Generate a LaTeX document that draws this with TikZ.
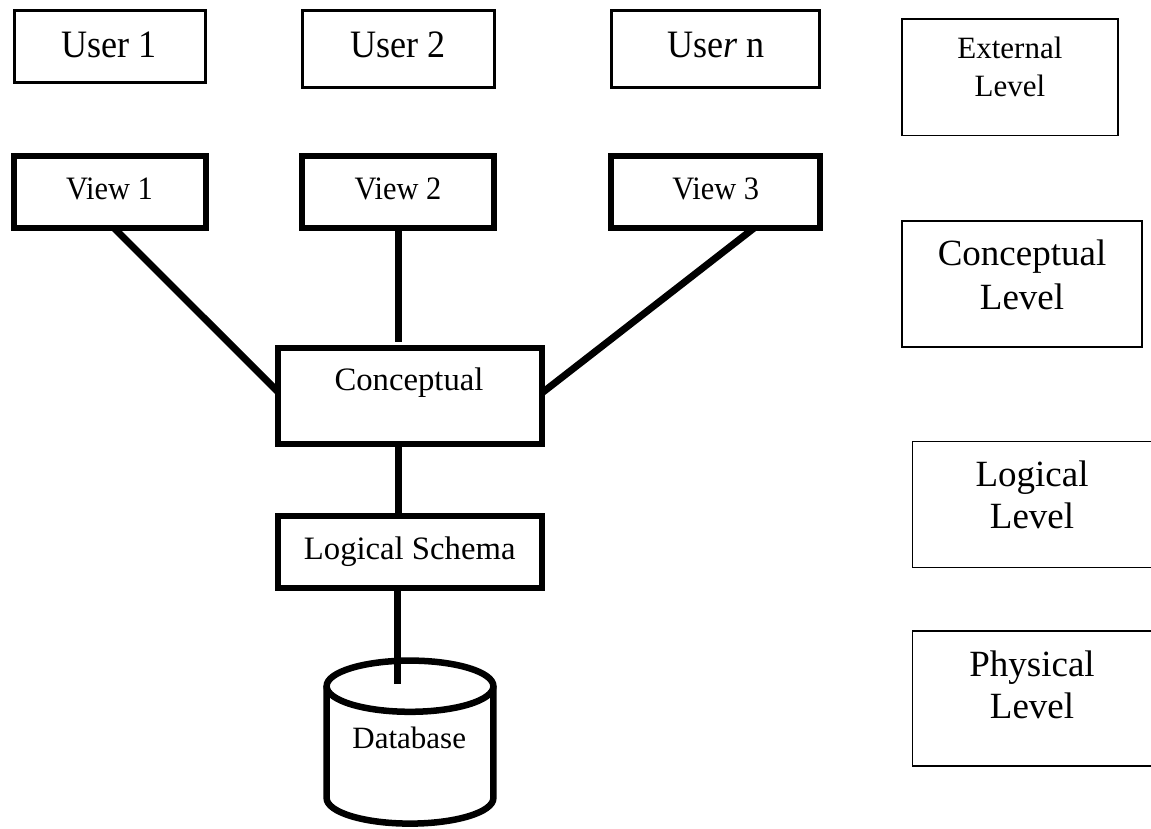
\documentclass[tikz,border=0pt]{standalone}
\usepackage{fontspec}
\setmainfont{Liberation Serif}
\newfontfamily\condserif{Liberation Serif}[FakeStretch=0.93]
\usetikzlibrary{backgrounds}
\begin{document}
\begin{tikzpicture}[x=1pt, y=-1pt,
  boxbase/.style={draw, fill=white, inner sep=0pt, outer sep=0pt},
  thinbox/.style={boxbase, line width=1.5pt},
  userbox/.style={boxbase, line width=3pt},
  heavybox/.style={boxbase, line width=6pt},
  link/.style={line width=7pt, line cap=butt},
  lab/.style={inner sep=0pt, outer sep=0pt, anchor=base},
  userlab/.style={lab, font=\condserif\fontsize{38.8}{44}\selectfont},
  viewlab/.style={lab, font=\condserif\fontsize{32.7}{38}\selectfont},
  schemalab/.style={lab, font=\fontsize{32.7}{38}\selectfont},
  dblab/.style={lab, font=\fontsize{31}{36}\selectfont},
  extlab/.style={lab, font=\fontsize{31}{36}\selectfont},
  levellab/.style={lab, font=\fontsize{37}{43}\selectfont}]

% page area
\begin{pgfonlayer}{background}
  \fill[white] (0,0) rectangle (1151,828);
\end{pgfonlayer}
\path[use as bounding box, clip] (0,0) rectangle (1151,828);

% users
\node[userbox, minimum width=191.6pt, minimum height=72pt]   (u1) at (110,46.5) {};
\node[userbox, minimum width=191.8pt, minimum height=76.7pt] (u2) at (398.2,49.2) {};
\node[userbox, minimum width=208.5pt, minimum height=77pt]   (un) at (715.6,49) {};

% views
\node[heavybox, minimum width=192.3pt, minimum height=71.4pt] (v1) at (110.2,192) {};
\node[heavybox, minimum width=191.8pt, minimum height=71.4pt] (v2) at (398.2,192) {};
\node[heavybox, minimum width=208.9pt, minimum height=71.4pt] (v3) at (715.9,192) {};

% conceptual and logical schema
\node[heavybox, minimum width=264pt, minimum height=95.7pt] (conc) at (410,395.9) {};
\node[heavybox, minimum width=264pt, minimum height=72.3pt] (ls) at (410,551.9) {};

% level boxes on the right
\node[thinbox, minimum width=215.8pt, minimum height=116.3pt] (extl) at (1009.9,77.2) {};
\node[thinbox, minimum width=239.8pt, minimum height=126.4pt] (concl) at (1021.9,284) {};
\node[thinbox, minimum width=239.5pt, minimum height=125.7pt] (logl) at (1032.2,504.4) {};
\node[thinbox, minimum width=239.5pt, minimum height=135.1pt] (physl) at (1032.2,698.3) {};

% connectors between views, conceptual and logical schema (behind the boxes)
\begin{pgfonlayer}{background}
  \draw[link] ([xshift=3.5pt]v1.south) -- ([yshift=4pt]conc.west);
  \draw[link] ([xshift=38.6pt]v3.south) -- ([yshift=3pt]conc.east);
  \draw[link, shorten >=6.3pt] (v2.south) -- (v2.south |- conc.north);
  \draw[link] ([xshift=-12pt]conc.south) -- ([xshift=-12pt]ls.north);
\end{pgfonlayer}

% database cylinder
\draw[line width=6.5pt, fill=white]
  (326.6,686.2) -- (326.6,798)
  .. controls (326.6,812.14) and (363.94,823.6) .. (410,823.6)
  .. controls (456.06,823.6) and (493.4,812.14) .. (493.4,798)
  -- (493.4,686.2);
\draw[line width=6.5pt, fill=white] (410,686.2) ellipse [x radius=83.4pt, y radius=25.6pt];
\coordinate (dbtap) at (397.8,684);
\draw[link] ([xshift=-12.2pt]ls.south) -- (dbtap);

% labels
\node[userlab] (tu1) at (108.7,57.3) {User 1};
\node[userlab] (tu2) at (398.3,57.3) {User 2};
\node[userlab] (tun) at (715.7,57.3) {Use\textit{r} n};

\node[viewlab] (tv1) at (109.5,199.3) {View 1};
\node[viewlab] (tv2) at (398,199.3) {View 2};
\node[viewlab] (tv3) at (715.7,199.3) {View 3};

\node[schemalab] (tconc) at (409,390.7) {Conceptual};
\node[schemalab] (tls) at (409.7,559) {Logical Schema};
\node[dblab] (tdb) at (409.2,748) {Database};

\node[extlab] (text1) at (1009.9,58.3) {External};
\node[extlab] (text2) at (1009.9,96) {Level};
\node[levellab] (tcl1) at (1022,265.7) {Conceptual};
\node[levellab] (tcl2) at (1022,309.3) {Level};
\node[levellab] (tll1) at (1032,486) {Logical};
\node[levellab] (tll2) at (1032,528.3) {Level};
\node[levellab] (tpl1) at (1032,676) {Physical};
\node[levellab] (tpl2) at (1032,718.3) {Level};
\end{tikzpicture}
\end{document}
